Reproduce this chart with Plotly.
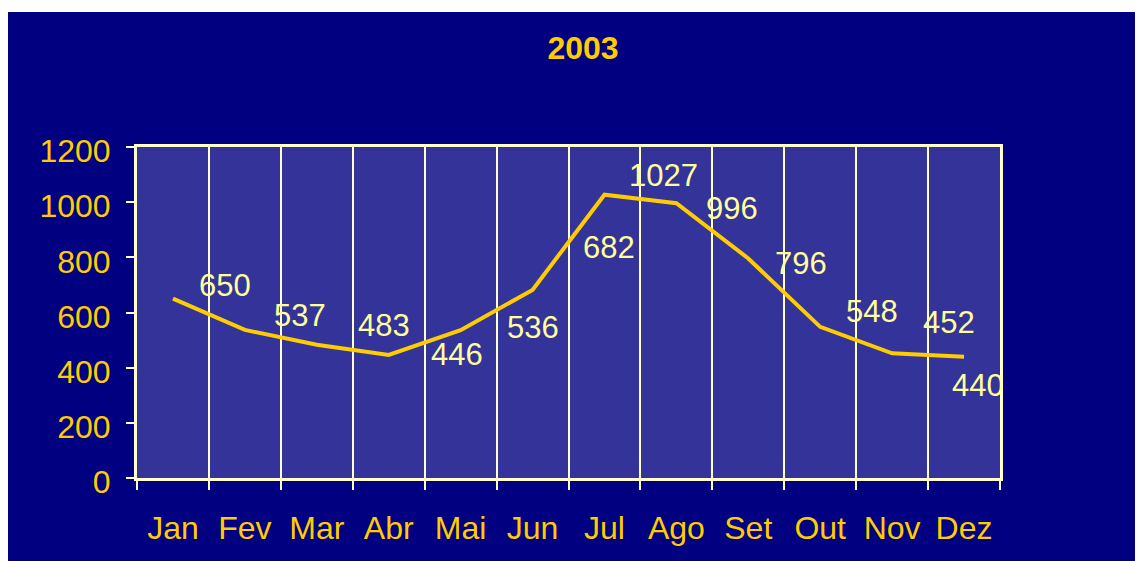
import plotly.graph_objects as go

# ---- data ----
months = ["Jan", "Fev", "Mar", "Abr", "Mai", "Jun", "Jul", "Ago", "Set", "Out", "Nov", "Dez"]
values = [650, 537, 483, 446, 536, 682, 1027, 996, 796, 548, 452, 440]
y_ticks = [0, 200, 400, 600, 800, 1000, 1200]
title_text = "2003"

# ---- style ----
NAVY = "#000080"
PLOT_BG = "#333399"
GOLD = "#FFCC00"
LABEL_YEL = "#FFFF99"
CREAM = "#FFFFCC"
FONT = "Liberation Sans, Arial, sans-serif"

# the page body adds an 8px margin; the figure fills the rest of the window
W, H = 1135, 553
ML, MR, MT, MB = 129, 143, 139, 83
PW, PH = W - ML - MR, H - MT - MB

# per-label pixel offsets (x right, y up) for the data labels
label_dx = [52, 55, 67, 68, 72, 76, 59, 56, 53, 52, 57, 14]
label_dy = [13, 14, 19, 0, 3, 42, 19, -5, -5, 15, 31, -29]

fig = go.Figure()
fig.add_trace(go.Scatter(
    x=months, y=values, mode="lines",
    line=dict(color=GOLD, width=4),
    hoverinfo="skip", showlegend=False,
))

for m, v, dx, dy in zip(months, values, label_dx, label_dy):
    fig.add_annotation(
        x=m, y=v, text=str(v), showarrow=False,
        xanchor="center", yanchor="middle",
        xshift=dx, yshift=dy,
        font=dict(family=FONT, size=31, color=LABEL_YEL),
    )

def px_to_paper_x(px):
    return (px - ML) / PW

def px_to_paper_y(py):
    return (H - MB - py) / PH

# thin white strip at the top of the original picture
fig.add_shape(type="rect", xref="paper", yref="paper",
              x0=px_to_paper_x(-5), x1=px_to_paper_x(W + 5),
              y0=px_to_paper_y(4), y1=px_to_paper_y(-5),
              fillcolor="white", line=dict(width=0), layer="above")

fig.update_layout(
    width=W, height=H,
    margin=dict(l=ML, r=MR, t=MT, b=MB, pad=0),
    paper_bgcolor=NAVY,
    plot_bgcolor=PLOT_BG,
    title=dict(text="<b>" + title_text + "</b>", x=575 / W, xref="container",
               y=1 - 40 / H, yref="container", xanchor="center", yanchor="middle",
               font=dict(family=FONT, size=32, color=GOLD)),
    font=dict(family=FONT, size=32, color=GOLD),
)

fig.update_xaxes(
    type="category", tickson="boundaries",
    showgrid=True, gridcolor=CREAM, gridwidth=2,
    showline=True, linecolor=CREAM, linewidth=3, mirror=True,
    ticks="outside", ticklen=9, tickwidth=2, tickcolor=CREAM,
    tickfont=dict(family=FONT, size=32, color=GOLD),
    ticklabelstandoff=20,
    range=[-0.5, 11.5], fixedrange=True,
)
fig.update_yaxes(
    range=[0, 1200], tickvals=y_ticks,
    showgrid=False, zeroline=False,
    showline=True, linecolor=CREAM, linewidth=3, mirror=True,
    ticks="outside", ticklen=8, tickwidth=2, tickcolor=CREAM,
    tickfont=dict(family=FONT, size=32, color=GOLD),
    ticklabelstandoff=9, ticklabelshift=4,
    fixedrange=True,
)

fig.write_html("out.html")
